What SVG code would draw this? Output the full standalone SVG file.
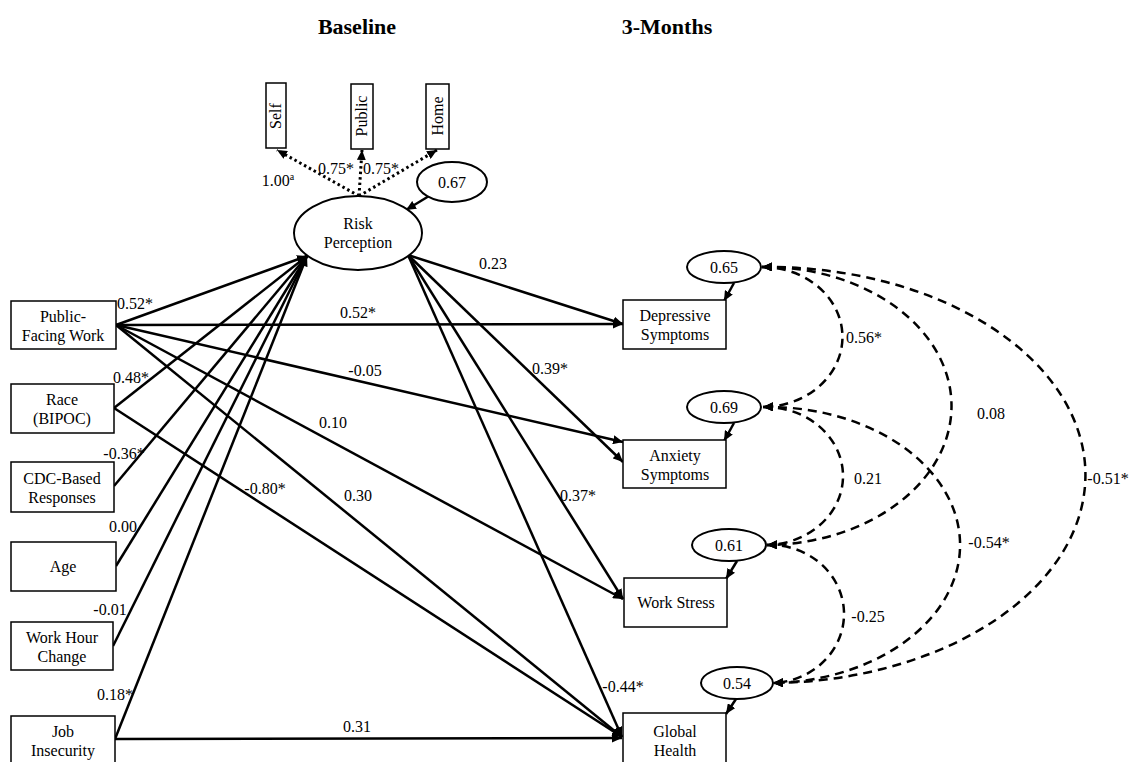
<svg xmlns="http://www.w3.org/2000/svg" width="1129" height="762" viewBox="0 0 1129 762">
<defs>
<marker id="ah" markerUnits="userSpaceOnUse" markerWidth="11" markerHeight="9" refX="10" refY="4.5" orient="auto-start-reverse" viewBox="0 0 11 9">
<path d="M0,0 L10,4.5 L0,9 Z" fill="#000"/>
</marker>
</defs>
<style>
text{font-family:"Liberation Serif","Times New Roman",serif;font-size:16px;fill:#000;text-anchor:middle}
.title{font-weight:bold;font-size:22px}
.box{fill:#fff;stroke:#000;stroke-width:1.5}
.ell{fill:#fff;stroke:#000;stroke-width:2}
.path{fill:none;stroke:#000;stroke-width:2.5;marker-end:url(#ah)}
.dot{fill:none;stroke:#000;stroke-width:3;stroke-dasharray:2.5 3;marker-end:url(#ah)}
.cov{fill:none;stroke:#000;stroke-width:2.5;stroke-dasharray:9 6;marker-start:url(#ah);marker-end:url(#ah)}
</style>
<rect width="1129" height="762" fill="#fff"/>
<text class="title" x="357" y="34">Baseline</text>
<text class="title" x="667" y="34">3-Months</text>

<g id="connectors">
<!-- loadings -->
<line class="dot" x1="359" y1="196" x2="277" y2="150"/>
<line class="dot" x1="359" y1="196" x2="362" y2="150"/>
<line class="dot" x1="359" y1="196" x2="437" y2="150"/>
<line class="path" x1="429" y1="196" x2="406" y2="210" stroke-width="3"/>
<!-- predictors to risk -->
<line class="path" x1="116" y1="325" x2="307" y2="256"/>
<line class="path" x1="114" y1="408" x2="307" y2="256"/>
<line class="path" x1="114" y1="486" x2="307" y2="256"/>
<line class="path" x1="116" y1="566" x2="307" y2="256"/>
<line class="path" x1="113" y1="646" x2="307" y2="256"/>
<line class="path" x1="115" y1="739" x2="307" y2="256"/>
<!-- predictors to outcomes -->
<line class="path" x1="116" y1="325" x2="623" y2="324"/>
<line class="path" x1="116" y1="325" x2="623" y2="442"/>
<line class="path" x1="116" y1="325" x2="623" y2="599"/>
<line class="path" x1="116" y1="325" x2="622" y2="737"/>
<line class="path" x1="114" y1="408" x2="622" y2="737"/>
<line class="path" x1="115" y1="739" x2="622" y2="738"/>
<!-- risk to outcomes -->
<line class="path" x1="408" y1="255" x2="623" y2="324"/>
<line class="path" x1="408" y1="255" x2="623" y2="462"/>
<line class="path" x1="408" y1="255" x2="623" y2="599"/>
<line class="path" x1="408" y1="255" x2="622" y2="737"/>
<!-- residual arrows -->
<line class="path" x1="734" y1="283" x2="724" y2="301"/>
<line class="path" x1="734" y1="423" x2="724" y2="441"/>
<line class="path" x1="737" y1="561" x2="726" y2="579"/>
<line class="path" x1="736" y1="699" x2="726" y2="714"/>
<!-- covariances -->
<path class="cov" d="M762,267 A80,70 0 0 1 763,407"/>
<path class="cov" d="M762,267 A187,139 0 0 1 767,545"/>
<path class="cov" d="M762,267 A318,208 0 0 1 773,683"/>
<path class="cov" d="M763,407 A78,69 0 0 1 767,545"/>
<path class="cov" d="M763,407 A192,138 0 0 1 773,683"/>
<path class="cov" d="M767,545 A74,69 0 0 1 773,683"/>
</g>

<g id="labels">
<text x="278" y="186">1.00<tspan font-size="10" dy="-6">a</tspan></text>
<text x="336" y="174">0.75*</text>
<text x="381" y="174">0.75*</text>
<text x="135" y="309">0.52*</text>
<text x="358" y="318">0.52*</text>
<text x="493" y="269">0.23</text>
<text x="365" y="376">-0.05</text>
<text x="550" y="374">0.39*</text>
<text x="333" y="428">0.10</text>
<text x="358" y="501">0.30</text>
<text x="578" y="501">0.37*</text>
<text x="131" y="383">0.48*</text>
<text x="265" y="494">-0.80*</text>
<text x="124" y="459">-0.36*</text>
<text x="123" y="532">0.00</text>
<text x="110" y="615">-0.01</text>
<text x="115" y="700">0.18*</text>
<text x="357" y="732">0.31</text>
<text x="623" y="692">-0.44*</text>
<text x="864" y="343">0.56*</text>
<text x="991" y="419">0.08</text>
<text x="1108" y="484">-0.51*</text>
<text x="868" y="484">0.21</text>
<text x="989" y="548">-0.54*</text>
<text x="868" y="622">-0.25</text>
</g>

<g id="self"><rect class="box" x="266" y="83" width="20" height="65"/><text transform="translate(281,116) rotate(-90)">Self</text></g>
<g id="public"><rect class="box" x="351" y="84" width="22" height="65"/><text transform="translate(367,116) rotate(-90)">Public</text></g>
<g id="home"><rect class="box" x="426" y="84" width="23" height="65"/><text transform="translate(443,116) rotate(-90)">Home</text></g>

<g id="risk-perception"><ellipse class="ell" cx="358" cy="233" rx="64" ry="37" stroke-width="1.5"/><text x="358" y="229">Risk</text><text x="358" y="248">Perception</text></g>
<g id="res-risk"><ellipse class="ell" cx="452" cy="182" rx="35" ry="20"/><text x="452" y="188">0.67</text></g>

<g id="public-facing"><rect class="box" x="11" y="301" width="105" height="48" stroke-width="2.2"/><text x="63" y="322">Public-</text><text x="63" y="341">Facing Work</text></g>
<g id="race"><rect class="box" x="11" y="384" width="103" height="49"/><text x="62" y="405">Race</text><text x="62" y="424">(BIPOC)</text></g>
<g id="cdc"><rect class="box" x="11" y="462" width="103" height="50"/><text x="62" y="484">CDC-Based</text><text x="62" y="503">Responses</text></g>
<g id="age"><rect class="box" x="11" y="542" width="105" height="49"/><text x="63" y="572">Age</text></g>
<g id="work-hour"><rect class="box" x="11" y="622" width="102" height="48"/><text x="62" y="643">Work Hour</text><text x="62" y="662">Change</text></g>
<g id="job"><rect class="box" x="11" y="716" width="104" height="60"/><text x="63" y="737">Job</text><text x="63" y="756">Insecurity</text></g>

<g id="depressive"><rect class="box" x="623" y="300" width="103" height="49"/><text x="675" y="321">Depressive</text><text x="675" y="340">Symptoms</text></g>
<g id="anxiety"><rect class="box" x="623" y="440" width="103" height="48"/><text x="675" y="461">Anxiety</text><text x="675" y="480">Symptoms</text></g>
<g id="work-stress"><rect class="box" x="624" y="578" width="103" height="49"/><text x="676" y="608">Work Stress</text></g>
<g id="global"><rect class="box" x="623" y="713" width="103" height="60"/><text x="675" y="737">Global</text><text x="675" y="756">Health</text></g>

<g id="res-dep"><ellipse class="ell" cx="724" cy="267" rx="37" ry="16"/><text x="724" y="273">0.65</text></g>
<g id="res-anx"><ellipse class="ell" cx="724" cy="407" rx="37" ry="16"/><text x="724" y="413">0.69</text></g>
<g id="res-ws"><ellipse class="ell" cx="729" cy="545" rx="37" ry="16"/><text x="729" y="551">0.61</text></g>
<g id="res-gh"><ellipse class="ell" cx="737" cy="683" rx="36" ry="16"/><text x="737" y="689">0.54</text></g>
</svg>
